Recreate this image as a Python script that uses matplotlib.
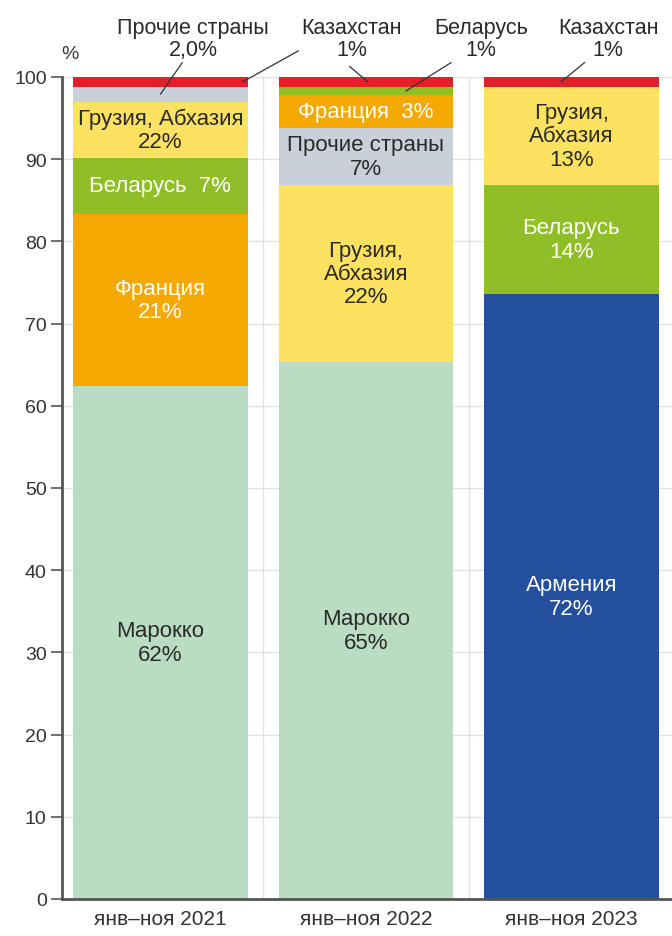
import matplotlib
matplotlib.use("Agg")
import matplotlib.pyplot as plt

plt.rcParams["font.family"] = ["Liberation Sans Narrow", "Liberation Sans", "DejaVu Sans"]

periods = ["янв–ноя 2021", "янв–ноя 2022", "янв–ноя 2023"]

# segments bottom-up for each bar
countries_2021 = ["Марокко", "Франция", "Беларусь", "Грузия, Абхазия", "Прочие страны", "Казахстан"]
shares_2021 = [62.4, 20.9, 6.9, 6.8, 1.8, 1.2]
labels_2021 = ["Марокко\n62%", "Франция\n21%", "Беларусь  7%", "Грузия, Абхазия\n22%", None, None]

countries_2022 = ["Марокко", "Грузия, Абхазия", "Прочие страны", "Франция", "Беларусь", "Казахстан"]
shares_2022 = [65.3, 21.6, 6.9, 4.0, 1.0, 1.2]
labels_2022 = ["Марокко\n65%", "Грузия,\nАбхазия\n22%", "Прочие страны\n7%", "Франция  3%", None, None]

countries_2023 = ["Армения", "Беларусь", "Грузия, Абхазия", "Казахстан"]
shares_2023 = [73.6, 13.3, 11.9, 1.2]
labels_2023 = ["Армения\n72%", "Беларусь\n14%", "Грузия,\nАбхазия\n13%", None]

colors = {
    "Марокко": "#b9dcc2",
    "Франция": "#f5a800",
    "Беларусь": "#8fbe26",
    "Грузия, Абхазия": "#fde160",
    "Прочие страны": "#c9d0da",
    "Казахстан": "#e3202a",
    "Армения": "#234f9c",
}
white_text = {"Франция", "Беларусь", "Армения"}

bars = [
    (countries_2021, shares_2021, labels_2021),
    (countries_2022, shares_2022, labels_2022),
    (countries_2023, shares_2023, labels_2023),
]

fig = plt.figure(figsize=(6.72, 9.37), dpi=100)
ax = fig.add_axes([62 / 672, 37 / 937, 610 / 672, 822 / 937])

mids = {}  # (bar, country) -> segment middle, for the outside callouts
for i, (names, vals, labels) in enumerate(bars):
    bottom = 0.0
    for name, v, lab in zip(names, vals, labels):
        ax.bar(i, v, bottom=bottom, width=0.85, color=colors[name], zorder=2)
        mid = bottom + v / 2
        mids[(i, name)] = mid
        if lab:
            ax.text(i, mid, lab, ha="center", va="center", fontsize=16,
                    color="white" if name in white_text else "#2a2a2a",
                    linespacing=1.15, zorder=3)
        bottom += v

ax.set_xlim(-0.479, 2.49)
ax.set_ylim(0, 100)
ax.set_yticks(range(0, 101, 10))
ax.set_xticks(range(len(periods)))
ax.set_xticklabels(periods)
ax.tick_params(axis="y", length=8, width=1.2, color="#555555", labelsize=14,
               labelcolor="#333333", pad=3)
ax.tick_params(axis="x", length=0, labelsize=15, labelcolor="#333333", pad=7)

ax.grid(axis="y", color="#e2e2e2", linewidth=1, zorder=0)
for x in (0.5, 1.5):
    ax.axvline(x, color="#e2e2e2", linewidth=1, zorder=0)
for side in ("top", "right"):
    ax.spines[side].set_visible(False)
for side in ("left", "bottom"):
    ax.spines[side].set_color("#555555")
    ax.spines[side].set_linewidth(2)

ax.text(-0.44, 102.8, "%", ha="center", va="center", fontsize=14, color="#333333")

# callouts for the thin top segments
line_kw = dict(arrowstyle="-", color="#333333", lw=0.9, shrinkA=0, shrinkB=0)
txt_kw = dict(ha="center", va="center", fontsize=15.5, color="#2a2a2a",
              linespacing=1.05, annotation_clip=False)

ax.annotate("Прочие страны\n2,0%", xy=(0.0, mids[(0, "Прочие страны")]),
            xytext=(0.16, 104.7), arrowprops=dict(relpos=(0.44, 0), **line_kw), **txt_kw)
ax.annotate("Казахстан\n1%", xy=(0.40, mids[(0, "Казахстан")]),
            xytext=(0.93, 104.7), arrowprops=dict(relpos=(0.08, 0.35), **line_kw), **txt_kw)
ax.annotate("", xy=(1.01, mids[(1, "Казахстан")]), xytext=(0.92, 101.3),
            arrowprops=line_kw, annotation_clip=False)
ax.annotate("Беларусь\n1%", xy=(1.195, mids[(1, "Беларусь")]),
            xytext=(1.56, 104.7), arrowprops=dict(relpos=(0.39, 0.22), **line_kw), **txt_kw)
ax.annotate("Казахстан\n1%", xy=(1.95, mids[(2, "Казахстан")]),
            xytext=(2.18, 104.7), arrowprops=dict(relpos=(0.36, 0.12), **line_kw), **txt_kw)

fig.savefig("out.png", dpi=100)
